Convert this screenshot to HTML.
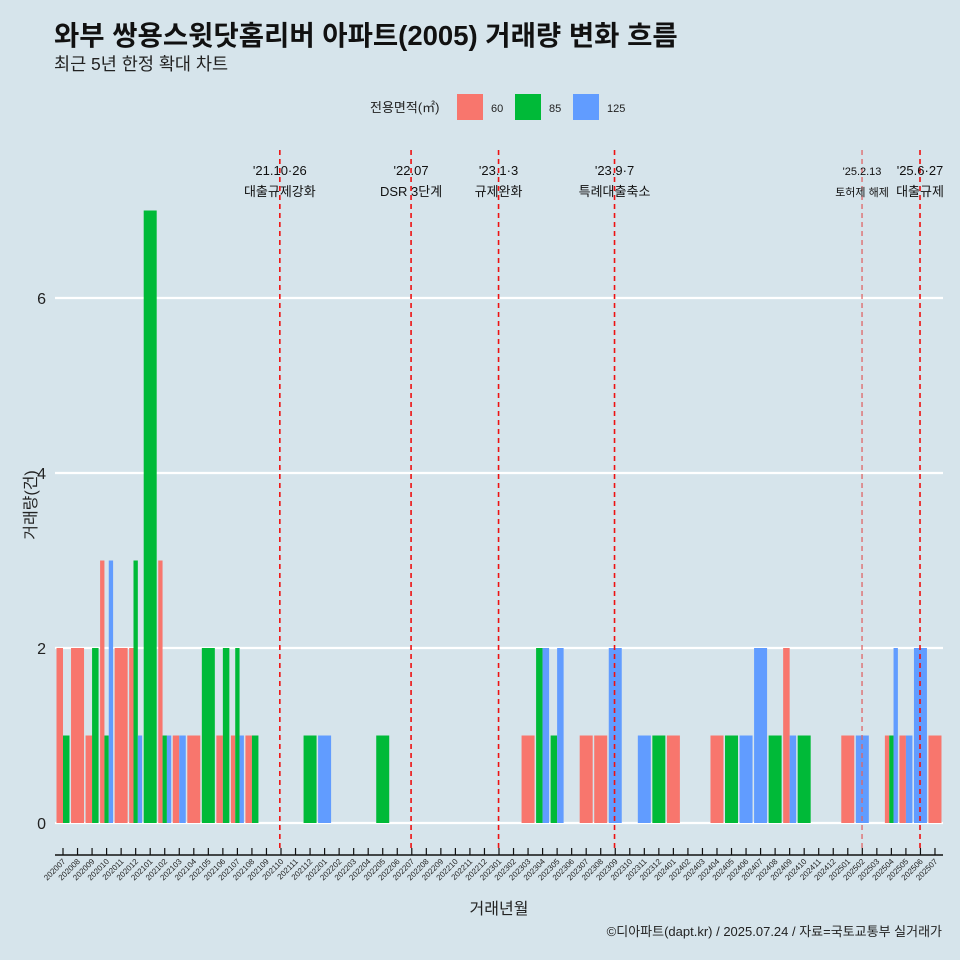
<!DOCTYPE html>
<html><head><meta charset="utf-8">
<style>
html,body{margin:0;padding:0;background:#d6e4eb;}
svg{display:block;font-family:"Liberation Sans","Noto Sans CJK KR",sans-serif;}
</style></head>
<body>
<svg id="chart" width="960" height="960" viewBox="0 0 960 960" xmlns="http://www.w3.org/2000/svg">
<rect x="0" y="0" width="960" height="960" fill="#d6e4eb"/>
<text x="54" y="45" font-size="27.5" font-weight="bold" fill="#111">와부 쌍용스윗닷홈리버 아파트(2005) 거래량 변화 흐름</text>
<text x="54" y="70" font-size="17.5" fill="#222">최근 5년 한정 확대 차트</text>
<g>
<text x="370" y="112" font-size="13" fill="#222">전용면적(㎡)</text>
<rect x="457" y="94" width="26" height="26" fill="#f8766d"/>
<text x="491" y="112" font-size="11" fill="#222">60</text>
<rect x="515" y="94" width="26" height="26" fill="#00ba38"/>
<text x="549" y="112" font-size="11" fill="#222">85</text>
<rect x="573" y="94" width="26" height="26" fill="#619cff"/>
<text x="607" y="112" font-size="11" fill="#222">125</text>
</g>
<g id="grid"></g><g id="bars"></g><g id="events"></g><g id="axes"></g>
<text x="36" y="505" font-size="16" fill="#222" transform="rotate(-90 36 505)" text-anchor="middle">거래량(건)</text>
<text x="499" y="914" font-size="16" fill="#222" text-anchor="middle">거래년월</text>
<text x="942" y="936" font-size="13" fill="#222" text-anchor="end">©디아파트(dapt.kr) / 2025.07.24 / 자료=국토교통부 실거래가</text>
</svg>
<script>
const months = [];
for (let y = 2020; y <= 2025; y++) for (let m = 1; m <= 12; m++) {
  const k = y * 100 + m; if (k >= 202007 && k <= 202507) months.push(String(k));
}
const series60 = {202007:2,202008:2,202009:1,202010:3,202011:2,202012:2,202102:3,202103:1,202104:1,202106:1,202107:1,202108:1,202303:1,202307:1,202308:1,202401:1,202404:1,202409:2,202501:1,202504:1,202505:1,202507:1};
const series85 = {202007:1,202009:2,202010:1,202012:3,202101:7,202102:1,202105:2,202106:2,202107:2,202108:1,202112:1,202205:1,202304:2,202305:1,202312:1,202405:1,202408:1,202410:1,202504:1};
const series125 = {202010:3,202012:1,202102:1,202103:1,202107:1,202201:1,202304:2,202305:2,202309:2,202311:1,202406:1,202407:2,202409:1,202502:1,202504:2,202505:1,202506:2};
const yTicks = [0, 2, 4, 6];
const eventPos = [14.92, 23.95, 29.97, 37.95, 54.98, 58.97];
const eventLine1 = ["'21.10·26", "'22.07", "'23.1·3", "'23.9·7", "'25.2.13", "'25.6·27"];
const eventLine2 = ["대출규제강화", "DSR 3단계", "규제완화", "특례대출축소", "토허제 해제", "대출규제"];

const NS = "http://www.w3.org/2000/svg";
const X0 = 63, DX = 14.533, Y0 = 823, DY = 87.5, BW = 13;
const xs = i => X0 + i * DX;
const ys = v => Y0 - v * DY;
function mk(tag, attrs, parent) { const e = document.createElementNS(NS, tag); for (const k in attrs) e.setAttribute(k, attrs[k]); parent.appendChild(e); return e; }
const grid = document.getElementById('grid'), bars = document.getElementById('bars'), events = document.getElementById('events'), axes = document.getElementById('axes');

yTicks.forEach(t => {
  const l = mk('line', {x1: 55, x2: 943, y1: ys(t), y2: ys(t), stroke: '#fff', 'stroke-width': 2.2}, grid);
  
  
  const tx = mk('text', {x: 46, y: ys(t) + 6, 'font-size': 16, fill: '#222', 'text-anchor': 'end'}, axes);
  tx.textContent = t;
  
  
});

const groups = [[series60, '#f8766d', '60'], [series85, '#00ba38', '85'], [series125, '#619cff', '125']];
months.forEach((m, i) => {
  const present = groups.filter(g => g[0][m]);
  const w = BW / (present.length || 1);
  present.forEach((g, j) => {
    const v = g[0][m];
    const r = mk('rect', {x: xs(i) - BW / 2 + j * w, y: ys(v), width: w, height: v * DY, fill: g[1]}, bars);
    
    
  });
});

eventPos.forEach((p, i) => {
  const x = xs(p);
  const small = i === 4;
  const l = mk('line', {x1: x, x2: x, y1: 150, y2: 852, stroke: small ? '#e06666' : '#ee1111', 'stroke-width': small ? 1.3 : 1.6, 'stroke-dasharray': '5,4'}, events);
  
  
  const fs = small ? 11 : 13;
  const t1 = mk('text', {x: x, y: 175, 'font-size': fs, fill: '#111', 'text-anchor': 'middle'}, events);
  t1.textContent = eventLine1[i];
  
  
  const t2 = mk('text', {x: x, y: 196, 'font-size': fs, fill: '#111', 'text-anchor': 'middle'}, events);
  t2.textContent = eventLine2[i];
  
  
});

const ax = mk('line', {x1: 55, x2: 943, y1: 855, y2: 855, stroke: '#111', 'stroke-width': 1.5}, axes);


months.forEach((m, i) => {
  const x = xs(i);
  const tk = mk('line', {x1: x, x2: x, y1: 848, y2: 855, stroke: '#111', 'stroke-width': 1.2}, axes);
  
  
  const t = mk('text', {x: x + 3, y: 862, 'font-size': 8, fill: '#222', 'text-anchor': 'end', transform: 'rotate(-45 ' + (x + 3) + ' 862)'}, axes);
  t.textContent = m;
  
  
});
</script>
</body></html>
